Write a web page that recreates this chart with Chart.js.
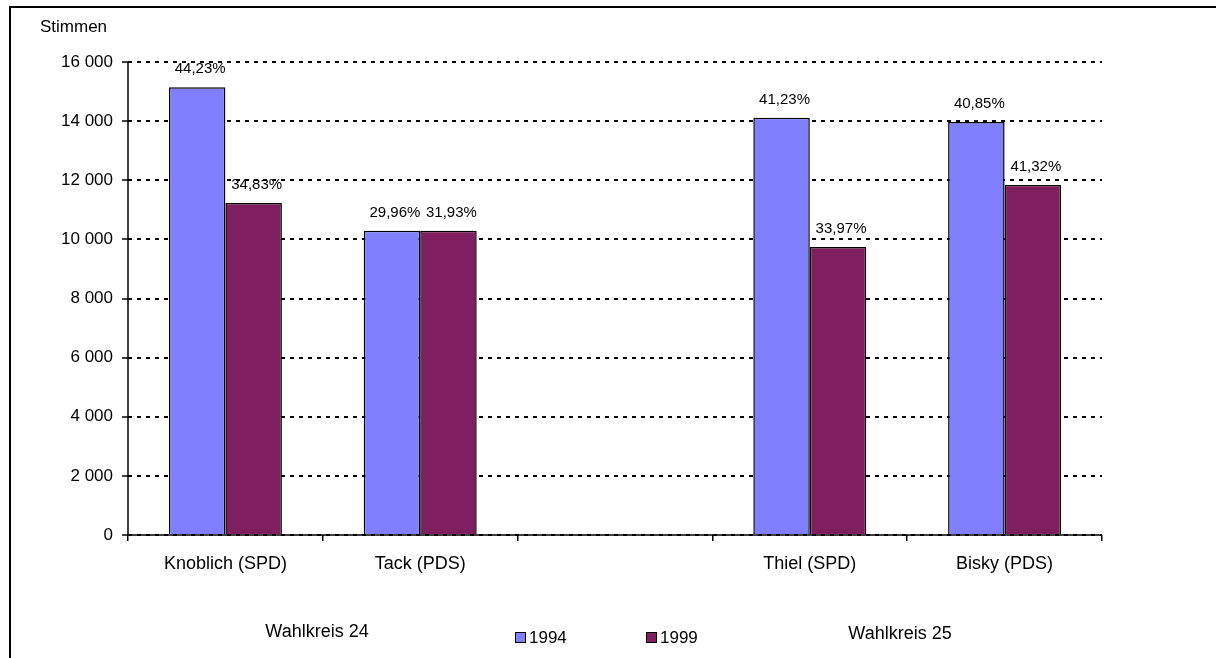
<!DOCTYPE html>
<html>
<head>
<meta charset="utf-8">
<script src="https://cdn.jsdelivr.net/npm/chart.js@4.4.0/dist/chart.umd.min.js"></script>
<style>
  html, body { margin: 0; padding: 0; background: #fff; }
  #wrap { width: 1216px; height: 658px; }
</style>
</head>
<body>
<div id="wrap"><canvas id="stimmenChart" width="1216" height="658"></canvas></div>
<script>
// Kandidaten (leere Kategorie trennt die Wahlkreise)
const kandidaten = ['Knoblich (SPD)', 'Tack (PDS)', '', 'Thiel (SPD)', 'Bisky (PDS)'];

// Stimmen pro Jahr
const stimmen1994 = [15150, 10290, null, 14110, 13970];
const stimmen1999 = [11230, 10290, null, 9740, 11840];

// Prozentangaben über den Balken
const prozent1994 = ['44,23%', '29,96%', null, '41,23%', '40,85%'];
const prozent1999 = ['34,83%', '31,93%', null, '33,97%', '41,32%'];

const yTicks = [0, 2000, 4000, 6000, 8000, 10000, 12000, 14000, 16000];

const FONT = 'Arial, "Liberation Sans", sans-serif';

function formatTausend(v) {
    return String(v).replace(/\B(?=(\d{3})+(?!\d))/g, ' ');
}

// Achsen, Beschriftungen, Legende und Rahmen zeichnen
const extrasPlugin = {
    id: 'extras',
    afterDatasetsDraw(chart) {
        const ctx = chart.ctx;
        const area = chart.chartArea;
        ctx.save();
        // durchgezogene Achsenlinien
        ctx.strokeStyle = '#000';
        ctx.lineWidth = 1.5;
        ctx.beginPath();
        ctx.moveTo(area.left, area.top);
        ctx.lineTo(area.left, area.bottom);
        ctx.lineTo(area.right, area.bottom);
        ctx.stroke();

        ctx.fillStyle = '#000';
        ctx.font = '15px ' + FONT;
        ctx.textAlign = 'center';
        ctx.textBaseline = 'middle';
        const labelSets = [prozent1994, prozent1999];
        chart.data.datasets.forEach((ds, i) => {
            const meta = chart.getDatasetMeta(i);
            meta.data.forEach((bar, j) => {
                const txt = labelSets[i][j];
                if (!txt) return;
                ctx.fillText(txt, bar.x + 3, bar.y - 18);
            });
        });
        ctx.restore();
    },
    afterDraw(chart) {
        const ctx = chart.ctx;
        ctx.save();
        // Rahmen
        ctx.strokeStyle = '#000';
        ctx.lineWidth = 2;
        ctx.beginPath();
        ctx.moveTo(10, 658);
        ctx.lineTo(10, 7);
        ctx.lineTo(1216, 7);
        ctx.stroke();

        ctx.fillStyle = '#000';
        ctx.textBaseline = 'middle';
        ctx.font = '17px ' + FONT;
        ctx.textAlign = 'left';
        ctx.fillText('Stimmen', 40, 27);

        ctx.font = '18px ' + FONT;
        ctx.textAlign = 'center';
        ctx.fillText('Wahlkreis 24', 317, 632);
        ctx.fillText('Wahlkreis 25', 900, 634);

        // Legende
        ctx.font = '17px ' + FONT;
        ctx.textAlign = 'left';
        chart.data.datasets.forEach((ds, i) => {
            const bx = 515 + i * 131;
            ctx.fillStyle = ds.backgroundColor;
            ctx.fillRect(bx, 632, 11, 11);
            ctx.strokeStyle = '#000';
            ctx.lineWidth = 1;
            ctx.strokeRect(bx + 0.5, 632.5, 10, 10);
            ctx.fillStyle = '#000';
            ctx.fillText(ds.label, bx + 14, 638);
        });
        ctx.restore();
    }
};

const ctx = document.getElementById('stimmenChart').getContext('2d');
new Chart(ctx, {
    type: 'bar',
    data: {
        labels: kandidaten,
        datasets: [{
            label: '1994',
            data: stimmen1994,
            backgroundColor: '#8080FF',
            borderColor: '#000',
            borderWidth: 1.5,
            categoryPercentage: 0.58,
            barPercentage: 1
        }, {
            label: '1999',
            data: stimmen1999,
            backgroundColor: '#801F5F',
            borderColor: '#000',
            borderWidth: 1.5,
            categoryPercentage: 0.58,
            barPercentage: 1
        }]
    },
    options: {
        responsive: false,
        animation: false,
        layout: { padding: { left: 0, right: 114, top: 62, bottom: 0 } },
        plugins: {
            legend: { display: false },
            tooltip: { enabled: false }
        },
        scales: {
            x: {
                grid: {
                    drawOnChartArea: false,
                    offset: true,
                    tickLength: 6,
                    color: '#000',
                    lineWidth: 1.5
                },
                border: { display: false },
                ticks: {
                    color: '#000',
                    font: { family: FONT, size: 18 },
                    padding: 12,
                    maxRotation: 0,
                    autoSkip: false
                },
                afterFit(scale) { scale.height = 123; }
            },
            y: {
                min: 0,
                max: 16000,
                afterBuildTicks(scale) {
                    scale.ticks = yTicks.map(v => ({ value: v }));
                },
                grid: {
                    color: '#000',
                    lineWidth: 2,
                    tickLength: 6,
                    tickColor: '#000',
                    tickWidth: 1.5,
                    tickBorderDash: []
                },
                border: { display: false, dash: [4, 5] },
                ticks: {
                    color: '#000',
                    font: { family: FONT, size: 17 },
                    padding: 9,
                    callback: v => formatTausend(v)
                },
                afterFit(scale) { scale.width = 128; }
            }
        }
    },
    plugins: [extrasPlugin]
});
</script>
</body>
</html>
